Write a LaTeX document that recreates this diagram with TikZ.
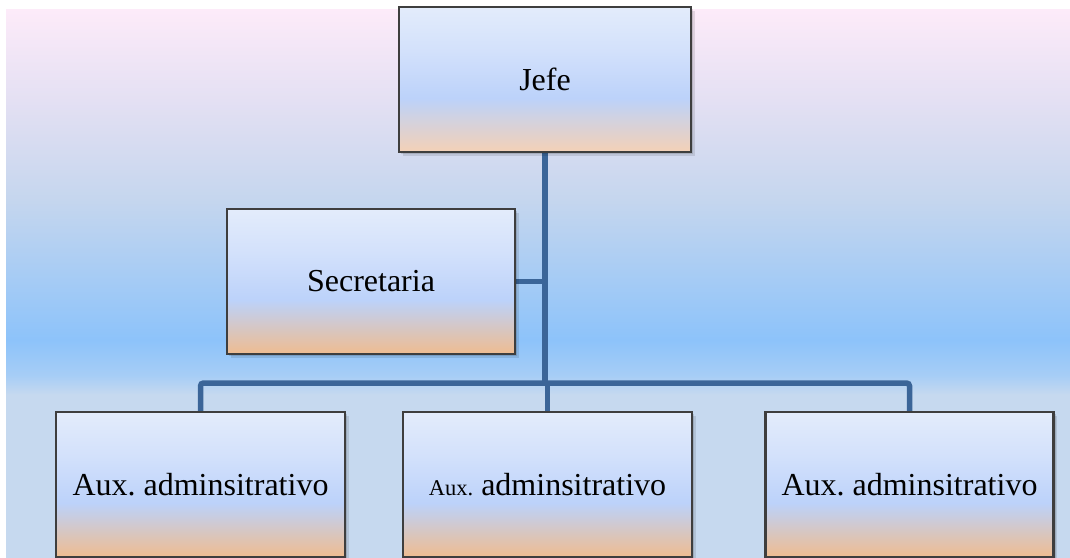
\documentclass[tikz,border=0pt]{standalone}
\usepackage{fontspec}
\setmainfont{Liberation Serif}
\frenchspacing

% palette
\definecolor{bgpink}{HTML}{FDEBF9}
\definecolor{bglav}{HTML}{E4E0F3}
\definecolor{bgsky}{HTML}{C5D6EE}
\definecolor{bgblue}{HTML}{8DC3FA}
\definecolor{bgmid}{HTML}{A6CDF6}
\definecolor{bgfloor}{HTML}{C6D9EF}
\definecolor{boxtop}{HTML}{E3ECFB}
\definecolor{boxupper}{HTML}{D3E1FB}
\definecolor{boxblue}{HTML}{BCD2FA}
\definecolor{boxpeach}{HTML}{EFBC90}
\definecolor{boxpeachsoft}{HTML}{F4D1B6}
\definecolor{wirecol}{HTML}{3B6598}
\definecolor{edgecol}{HTML}{3E3E3E}

% backdrop: pink at the top, deepening to blue, then a flat pale band
\pgfdeclareverticalshading{bgshade}{100bp}{%
  color(0bp)=(bgfloor); color(25bp)=(bgfloor); color(39.8bp)=(bgfloor);
  color(41.6bp)=(bgmid); color(44.8bp)=(bgblue); color(57.6bp)=(bgsky);
  color(66.7bp)=(bglav); color(75bp)=(bgpink); color(100bp)=(bgpink)}
% box fill: pale top, light blue middle, peach bottom
\pgfdeclareverticalshading{boxshade}{100bp}{%
  color(0bp)=(boxpeach); color(25bp)=(boxpeach); color(43.6bp)=(boxblue);
  color(60bp)=(boxupper); color(75bp)=(boxtop); color(100bp)=(boxtop)}
\pgfdeclareverticalshading{boxshadesoft}{100bp}{%
  color(0bp)=(boxpeachsoft); color(25bp)=(boxpeachsoft); color(43.6bp)=(boxblue);
  color(60bp)=(boxupper); color(75bp)=(boxtop); color(100bp)=(boxtop)}

\pgfdeclarelayer{backdrop}
\pgfdeclarelayer{wires}
\pgfsetlayers{backdrop,wires,main}

\tikzset{
  orgbox/.style={rectangle, draw=edgecol, line width=2.5pt, shade, shading=boxshade,
    minimum width=289pt, minimum height=145pt, inner sep=0pt, align=center,
    font=\fontsize{32}{38}\selectfont,
    preaction={fill=black, opacity=0.10, transform canvas={shift={(3.5pt,-3.5pt)}}},
    preaction={fill=black, opacity=0.12, transform canvas={shift={(2pt,-2pt)}}}},
  wire/.style={draw=wirecol, line width=5.5pt, rounded corners=3pt}
}

\begin{document}
\begin{tikzpicture}[x=1pt, y=-1pt]
  \useasboundingbox (0,0) rectangle (1070,557);
  \clip (0,0) rectangle (1070,557);

  \begin{pgfonlayer}{backdrop}
    \fill[white] (0,0) rectangle (1070,557);
    \shade[shading=bgshade] (6,9) rectangle (1070,557);
  \end{pgfonlayer}

  % boxes
  \node[orgbox, shading=boxshadesoft, minimum width=292pt] (jefe) at (545,79.5) {Jefe};
  \node[orgbox, minimum width=288pt] (sec) at (371,281.5) {Secretaria};
  \node[orgbox] (aux1) at (200.5,484.5) {Aux. adminsitrativo};
  \node[orgbox] (aux2) at (547.5,484.5) {{\fontsize{22.5}{26}\selectfont Aux.} adminsitrativo};
  \node[orgbox, minimum width=288pt] (aux3) at (909.5,484.5) {Aux. adminsitrativo};

  % connectors
  \coordinate (bus) at (545,383);
  \begin{pgfonlayer}{wires}
    \draw[wire] (jefe.south) -- (bus);
    \draw[wire] (sec.east) -- (sec.east -| jefe.south);
    \draw[wire] (aux1.north) -- (aux1.north |- bus) -- (aux3.north |- bus) -- (aux3.north);
    \draw[wire] (aux2.north) -- (aux2.north |- bus);
  \end{pgfonlayer}
\end{tikzpicture}
\end{document}
